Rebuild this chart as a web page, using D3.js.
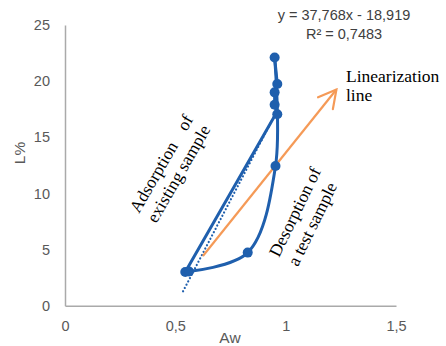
<!DOCTYPE html>
<html lang="en">
<head>
<meta charset="UTF-8">
<script src="https://d3js.org/d3.v7.min.js"></script>
<style>
  body { margin: 0; background: #fff; }
  svg { display: block; }
  .tick text { font-family: "Liberation Sans", Arial, sans-serif; font-size: 14.5px; fill: #595959; }
  .note { font-family: "Liberation Serif", "Times New Roman", serif; font-size: 17.5px; fill: #000; }
</style>
</head>
<body>
<svg id="chart" width="446" height="346"></svg>
<script>
// adsorption branch (Aw, L%)
var adsX = [0.545, 0.950, 0.962, 0.950, 0.950, 0.962, 0.950];
var adsY = [3.00, 16.90, 17.05, 17.90, 19.00, 19.75, 22.10];
// desorption branch
var desX = [0.950, 0.954, 0.828, 0.562];
var desY = [22.10, 12.45, 4.73, 3.05];
// linear trend from the chart
var slope = 37.768, intercept = -18.919;
var trendRange = [0.535, 0.962];
// linearization arrow (data coords)
var arrowX = [0.625, 1.23];
var arrowY = [4.43, 19.25];

var xTicks = [0, 0.5, 1, 1.5];
var yTicks = [0, 5, 10, 15, 20, 25];

var blue = "#1f5fad", orange = "#f59a57";
var fmt = d => String(d).replace(".", ",");

function draw() {
    var svg = d3.select("#chart");
    var x = d3.scaleLinear().domain([0, 1.5]).range([65, 396]);
    var y = d3.scaleLinear().domain([0, 25]).range([305.7, 25]);

    // axes
    svg.append("g").attr("transform", "translate(0," + y(0) + ")")
        .call(d3.axisBottom(x).tickValues(xTicks).tickFormat(fmt).tickSize(0).tickPadding(15));
    svg.append("g").attr("transform", "translate(" + x(0) + ",0)")
        .call(d3.axisLeft(y).tickValues(yTicks).tickFormat(fmt).tickSize(0).tickPadding(15));
    svg.selectAll(".domain").attr("stroke", "#aaaaaa").attr("stroke-width", 1.5);

    svg.append("text").attr("x", 230).attr("y", 343).attr("text-anchor", "middle")
        .style("font-family", "Liberation Sans, Arial, sans-serif").style("font-size", "15.5px")
        .attr("fill", "#595959").text("Aw");
    svg.append("text").attr("transform", "translate(25,153) rotate(-90)").attr("text-anchor", "middle")
        .style("font-family", "Liberation Sans, Arial, sans-serif").style("font-size", "15.5px")
        .attr("fill", "#595959").text("L%");

    // trend line (dotted)
    svg.append("line")
        .attr("x1", x(trendRange[0])).attr("y1", y(slope * trendRange[0] + intercept))
        .attr("x2", x(trendRange[1])).attr("y2", y(slope * trendRange[1] + intercept))
        .attr("stroke", blue).attr("stroke-width", 2.2)
        .attr("stroke-dasharray", "0.1,3.6").attr("stroke-linecap", "round");

    // orange arrow
    var defs = svg.append("defs");
    defs.append("marker").attr("id", "head")
        .attr("markerUnits", "userSpaceOnUse")
        .attr("viewBox", "-20 -11 22 22").attr("markerWidth", 22).attr("markerHeight", 22)
        .attr("refX", 0).attr("refY", 0).attr("orient", "auto")
        .append("path").attr("d", "M-17.5,-9.5 L0,0 L-17.5,9.5")
        .attr("fill", "none").attr("stroke", orange).attr("stroke-width", 2.2)
        .attr("stroke-linecap", "round").attr("stroke-linejoin", "miter");
    svg.append("line")
        .attr("x1", x(arrowX[0])).attr("y1", y(arrowY[0]))
        .attr("x2", x(arrowX[1])).attr("y2", y(arrowY[1]))
        .attr("stroke", orange).attr("stroke-width", 2.2)
        .attr("marker-end", "url(#head)");

    // curves
    var toPts = (xs, ys) => xs.map((v, i) => [v, ys[i]]);
    var ads = toPts(adsX, adsY);
    var des = toPts(desX, desY);
    var straight = d3.line().x(d => x(d[0])).y(d => y(d[1]));
    var smooth = d3.line().x(d => x(d[0])).y(d => y(d[1])).curve(d3.curveCatmullRom.alpha(0.5));
    svg.append("path").datum(ads).attr("d", straight)
        .attr("fill", "none").attr("stroke", blue).attr("stroke-width", 3).attr("stroke-linejoin", "round");
    svg.append("path").datum(des).attr("d", smooth)
        .attr("fill", "none").attr("stroke", blue).attr("stroke-width", 3);

    var marks = ads.filter((d, i) => i != 1).concat(des.slice(1));
    svg.append("g").selectAll("circle").data(marks).enter().append("circle")
        .attr("cx", d => x(d[0])).attr("cy", d => y(d[1])).attr("r", 5)
        .attr("fill", blue);

    // equation
    var eq = svg.append("text").attr("text-anchor", "middle")
        .style("font-family", "Liberation Sans, Arial, sans-serif").style("font-size", "14.5px")
        .attr("fill", "#404040");
    eq.append("tspan").attr("x", 344).attr("y", 19.5).text("y = 37,768x - 18,919");
    eq.append("tspan").attr("x", 344).attr("y", 39).text("R² = 0,7483");

    // annotations
    var a1 = svg.append("text").attr("class", "note").attr("transform", "translate(139,214) rotate(-60)");
    a1.append("tspan").attr("x", 0).attr("y", 0).text("Adsorption");
    a1.append("tspan").attr("dx", 16).text("of");
    a1.append("tspan").attr("x", 0).attr("y", 20).text("existing sample");

    var a2 = svg.append("text").attr("class", "note").attr("transform", "translate(279,258) rotate(-64)");
    a2.append("tspan").attr("x", 0).attr("y", 0).text("Desorption of");
    a2.append("tspan").attr("x", 0).attr("y", 21).text("a test sample");

    var a3 = svg.append("text").attr("class", "note");
    a3.append("tspan").attr("x", 346).attr("y", 82).text("Linearization");
    a3.append("tspan").attr("x", 346).attr("y", 101).text("line");
}
draw();
</script>
</body>
</html>
